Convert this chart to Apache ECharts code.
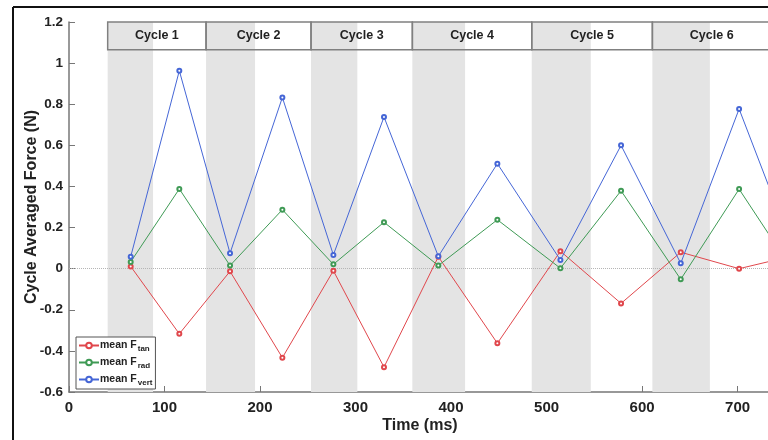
<!DOCTYPE html>
<html>
<head>
<meta charset="utf-8">
<script src="https://cdn.jsdelivr.net/npm/echarts@6/dist/echarts.min.js"></script>
<style>
  html, body { margin: 0; padding: 0; background: #fff; }
  #chart { width: 768px; height: 440px; }
</style>
</head>
<body>
<div id="chart"></div>
<script>
// Sample times (ms) of each cycle-averaged value
const times = [64.6, 115.5, 168.6, 223.4, 276.8, 329.8, 386.7, 448.5, 514.5, 578, 640.5, 701.6, 765];
// Cycle-averaged force components (N)
const fTan  = [0.011, -0.317, -0.013, -0.433, -0.010, -0.479, 0.058, -0.363, 0.085, -0.169, 0.080, 0.000, 0.070];
const fRad  = [0.033, 0.388, 0.015, 0.287, 0.021, 0.226, 0.015, 0.238, 0.002, 0.379, -0.052, 0.387, -0.060];
const fVert = [0.058, 0.963, 0.075, 0.833, 0.067, 0.738, 0.060, 0.511, 0.042, 0.600, 0.026, 0.777, 0.010];

// Cycle boundaries (ms) and shaded stance windows
const cycleNames = ['Cycle 1', 'Cycle 2', 'Cycle 3', 'Cycle 4', 'Cycle 5', 'Cycle 6'];
const cycleStart = [40.5, 143.5, 253.4, 359.5, 484.5, 610.8];
const bandEnd    = [88, 194.8, 301.9, 414.7, 546.3, 671];
const timeMax = 735;

// Legend entries: base label + subscript
const seriesNames = ['mean F tan', 'mean F rad', 'mean F vert'];
const subscripts  = ['tan', 'rad', 'vert'];

const colors = ['#e0474c', '#3f9a55', '#4566d6'];

const zip = (xs, ys) => xs.map((x, i) => [x, ys[i]]);

const bandData = cycleStart.map((s, i) => [
  { xAxis: s, yAxis: -0.6 },
  { xAxis: bandEnd[i], yAxis: 1.2 }
]);
const boxData = cycleStart.map((s, i) => [
  { name: cycleNames[i], xAxis: s, yAxis: 1.065 },
  { xAxis: i < cycleStart.length - 1 ? cycleStart[i + 1] : timeMax, yAxis: 1.2 }
]);

const chart = echarts.init(document.getElementById('chart'), null, { renderer: 'canvas' });

const lineSeries = [fTan, fRad, fVert].map((vals, i) => ({
  name: seriesNames[i],
  type: 'line',
  data: zip(times, vals),
  symbol: 'emptyCircle',
  symbolSize: 4,
  showAllSymbol: true,
  clip: true,
  z: 5,
  lineStyle: { color: colors[i], width: 1 },
  itemStyle: { color: colors[i], borderWidth: 1 },
  animation: false
}));

chart.setOption({
  animation: false,
  backgroundColor: '#fff',
  textStyle: { fontFamily: 'Liberation Sans, Arial, sans-serif' },
  grid: { left: 69, right: -3, top: 22, bottom: 48, outerBoundsMode: 'none', containLabel: false },
  xAxis: {
    type: 'value',
    min: 0, max: timeMax, interval: 100,
    name: 'Time (ms)',
    nameLocation: 'middle',
    nameGap: 26,
    nameMoveOverlap: false,
    nameTextStyle: { fontSize: 16, fontWeight: 'bold', color: '#222' },
    axisLine: { show: true, onZero: false, lineStyle: { color: '#777', width: 1.5 } },
    axisTick: { show: true, inside: true, length: 6, lineStyle: { color: '#777' } },
    axisLabel: {
      fontSize: 15, fontWeight: 'bold', color: '#222', margin: 8,
      formatter: v => (v % 100 === 0 ? String(v) : '')
    },
    splitLine: { show: false }
  },
  yAxis: {
    type: 'value',
    min: -0.6, max: 1.2, interval: 0.2,
    name: 'Cycle Averaged Force (N)',
    nameLocation: 'middle',
    nameGap: 29,
    nameMoveOverlap: false,
    nameTextStyle: { fontSize: 16, fontWeight: 'bold', color: '#222' },
    axisLine: { show: true, onZero: false, lineStyle: { color: '#777', width: 1.5 } },
    axisTick: { show: true, inside: true, length: 6, lineStyle: { color: '#777' } },
    axisLabel: {
      fontSize: 13.5, fontWeight: 'bold', color: '#222', margin: 6,
      formatter: v => String(Math.round(v * 10) / 10)
    },
    splitLine: { show: false }
  },
  legend: {
    data: seriesNames,
    orient: 'vertical',
    left: 76, top: 337,
    padding: [3, 3, 2, 2],
    itemGap: 4,
    itemWidth: 20, itemHeight: 7,
    backgroundColor: '#fff',
    borderColor: '#555', borderWidth: 1,
    formatter: name => '{m|mean F}{s|' + subscripts[seriesNames.indexOf(name)] + '}',
    textStyle: {
      padding: [0, 0, 0, -4],
      rich: {
        m: { fontSize: 10.5, fontWeight: 'bold', color: '#222' },
        s: { fontSize: 8, fontWeight: 'bold', color: '#222', padding: [7, 0, 0, 1] }
      }
    }
  },
  series: [
    {
      name: 'bands',
      type: 'line',
      data: [],
      z: 1,
      silent: true,
      markArea: {
        silent: true,
        itemStyle: { color: '#e4e4e4' },
        data: bandData
      },
      markLine: {
        silent: true,
        symbol: 'none',
        label: { show: false },
        lineStyle: { type: 'dotted', color: '#b5b5b5', width: 1 },
        data: [{ yAxis: 0 }]
      }
    },
    {
      name: 'cycles',
      type: 'line',
      data: [],
      z: 3,
      silent: true,
      markArea: {
        silent: true,
        itemStyle: { color: 'rgba(0,0,0,0)', borderColor: '#808080', borderWidth: 1.5 },
        label: {
          show: true, position: 'inside',
          fontSize: 12.5, fontWeight: 'bold', color: '#222'
        },
        data: boxData
      }
    },
    ...lineSeries
  ],
  graphic: [
    { type: 'line', shape: { x1: 13, y1: 7, x2: 768, y2: 7 }, style: { stroke: '#111', lineWidth: 2 }, z: 10 },
    { type: 'line', shape: { x1: 13, y1: 7, x2: 13, y2: 440 }, style: { stroke: '#111', lineWidth: 2 }, z: 10 }
  ]
});
</script>
</body>
</html>
